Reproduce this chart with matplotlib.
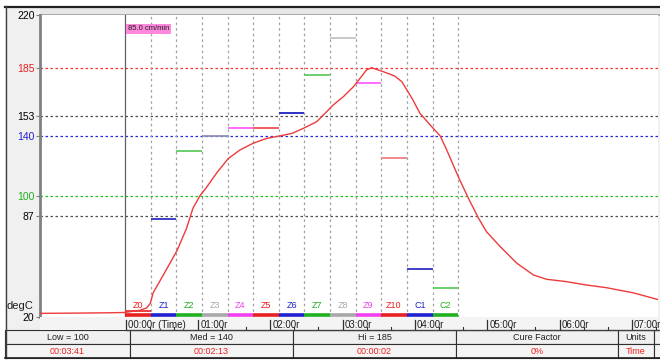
import numpy as np
import matplotlib.pyplot as plt
from matplotlib.patches import Rectangle

plt.rcParams['font.family'] = ['Liberation Sans', 'DejaVu Sans']

# profile data (time in minutes, temperature in degC)
time_min = [-1.185, -0.632, -0.217, -0.01, 0.20, 0.29, 0.34, 0.38, 0.57, 0.71,
            0.84, 0.93, 1.03, 1.12, 1.26, 1.42, 1.58, 1.76, 1.95, 2.13,
            2.30, 2.46, 2.64, 2.78, 2.87, 3.01, 3.15, 3.24, 3.33, 3.40,
            3.56, 3.72, 3.82, 3.96, 4.07, 4.19, 4.35, 4.44, 4.60, 4.74,
            4.88, 4.99, 5.18, 5.41, 5.64, 5.82, 6.10, 6.37, 6.65, 7.02, 7.36]
temp_c = [22.4, 22.6, 22.8, 23.0, 24.5, 26.0, 29.0, 36.0, 52.0, 64.0,
          78.5, 92.0, 100.5, 106.0, 115.5, 125.0, 130.6, 135.0, 138.3, 139.9,
          141.6, 145.0, 149.3, 156.0, 160.4, 165.9, 172.5, 178.0, 183.6, 185.1,
          182.5, 179.6, 175.8, 164.8, 154.9, 148.3, 139.9, 130.6, 112.9, 98.6,
          85.4, 76.5, 66.6, 55.6, 47.8, 45.0, 43.4, 41.2, 39.4, 36.0, 31.6]

zones = ['Z0', 'Z1', 'Z2', 'Z3', 'Z4', 'Z5', 'Z6', 'Z7', 'Z8', 'Z9', 'Z10', 'C1', 'C2']
zone_edges = [-0.01, 0.35, 0.70, 1.06, 1.41, 1.76, 2.12, 2.47, 2.82, 3.18, 3.53, 3.89, 4.25, 4.60]
setpoints = [24, 85, 130, 140, 145, 145, 155, 180, 205, 175, 125, 52, 39]
zone_colors = ['#e82020', '#2020d0', '#20b020', '#a8a8a8', '#f040f0', '#e82020', '#2020d0',
               '#20b020', '#a8a8a8', '#f040f0', '#e82020', '#2020d0', '#20b020']
setpoint_colors = ['#e83030', '#3030c0', '#60cc60', '#9090b8', '#ff60ff', '#f05050', '#2020c0',
                   '#60cc60', '#c4c4c4', '#ff60ff', '#f08080', '#3030c0', '#60cc60']

ref_levels = [185, 153, 140, 100, 87]
ref_colors = ['#ff3030', '#505050', '#2828e0', '#20c020', '#505050']
ytick_vals = [20, 87, 100, 140, 153, 185, 220]
ytick_colors = ['black', 'black', '#20b020', '#2020d0', 'black', '#e82020', 'black']

time_ticks = [0, 1, 2, 3, 4, 5, 6, 7]
time_labels = ['00:00r (Time)', '01:00r', '02:00r', '03:00r', '04:00r', '05:00r', '06:00r', '07:00r']

table_heads = ['Low = 100', 'Med = 140', 'Hi = 185', 'Cure Factor', 'Units', '']
table_vals = ['00:03:41', '00:02:13', '00:00:02', '0%', 'Time', '']
table_cols = [5, 130, 293, 456, 618, 654, 662]

W, H = 660, 360
fig = plt.figure(figsize=(6.6, 3.6), dpi=100)
fig.patch.set_facecolor('white')

# background widget in pixel coordinates
bg = fig.add_axes([0, 0, 1, 1])
bg.set_xlim(0, W)
bg.set_ylim(H, 0)
bg.axis('off')
bg.add_patch(Rectangle((5, 6), 660, 352, facecolor='#f0f0f0', edgecolor='none'))
bg.plot([5, 660], [6.5, 6.5], color='#202020', lw=1.6)
bg.plot([5.5, 5.5], [6, 358], color='#404040', lw=1.0)
bg.add_patch(Rectangle((40, 8), 620, 7, facecolor='#e6e6e6', edgecolor='none'))
bg.plot([40, 660], [15, 15], color='#a0a0a0', lw=1.2)
bg.text(20, 306, 'degC', fontsize=8, ha='center', va='center', color='#202020')

# table
for r, (y0, y1) in enumerate([(330, 344), (344, 358)]):
    for i in range(len(table_cols) - 1):
        x0, x1 = table_cols[i], table_cols[i + 1]
        bg.add_patch(Rectangle((x0, y0), x1 - x0, y1 - y0,
                               facecolor='#f0f0f0' if r == 0 else '#f4f4f4',
                               edgecolor='#303030', lw=0.8))
        txt = table_heads[i] if r == 0 else table_vals[i]
        bg.text((x0 + x1) / 2, (y0 + y1) / 2 + 0.5, txt, fontsize=6.5, ha='center', va='center',
                color='#202020' if r == 0 else '#ee2020')
bg.plot([5, 660], [358, 358], color='#202020', lw=1.2)

# main plot
x_lo, x_hi = -1.185, 7.362
ax = fig.add_axes([40 / W, 1 - 317 / H, 618 / W, 302 / H])
ax.set_facecolor('white')
ax.set_xlim(x_lo, x_hi)
ax.set_ylim(20, 220)
for s in ['top', 'right', 'bottom']:
    ax.spines[s].set_visible(False)
ax.spines['left'].set_color('#808080')
ax.spines['left'].set_linewidth(2)
ax.set_xticks([])
ax.set_yticks(ytick_vals)
ax.set_yticklabels([str(v) for v in ytick_vals], fontsize=7.5)
for lab, c in zip(ax.get_yticklabels(), ytick_colors):
    lab.set_color(c)
ax.tick_params(axis='y', length=3, width=0.8, color='#808080', pad=1)

for lvl, c in zip(ref_levels, ref_colors):
    ax.axhline(lvl, color=c, lw=0.9, ls=(0, (2, 2)), zorder=1)

ax.axvline(zone_edges[0], color='#606060', lw=0.9, zorder=1)
for e in zone_edges[1:]:
    ax.axvline(e, color='#a0a0a0', lw=0.9, ls=(0, (2, 2.5)), zorder=1)

ax.hlines(setpoints, zone_edges[:-1], zone_edges[1:], colors=setpoint_colors, lw=1.3, zorder=2)
ax.hlines([21] * len(zones), zone_edges[:-1], zone_edges[1:], colors=zone_colors, lw=2.6, zorder=3)

for i, z in enumerate(zones):
    ax.text((zone_edges[i] + zone_edges[i + 1]) / 2, 27.5, z, fontsize=6.5, color=zone_colors[i],
            ha='center', va='center', zorder=4)

ax.plot(time_min, temp_c, color='#ee3a3a', lw=1.0, zorder=5)

ax.text(0.03, 211, '85.0 cm/min', fontsize=5.5, color='#202020', va='center', ha='left',
        bbox=dict(boxstyle='square,pad=0.2', facecolor='#ff88dd', edgecolor='none'), zorder=6)

# time strip
tx = fig.add_axes([40 / W, 1 - 330 / H, 618 / W, 13 / H])
tx.set_facecolor('#f4f4f4')
tx.set_xlim(x_lo, x_hi)
tx.set_ylim(0, 1)
tx.set_xticks([])
tx.set_yticks([])
for s in tx.spines.values():
    s.set_visible(False)
tx.plot([0, x_hi], [0.02, 0.02], color='#404040', lw=1.0, clip_on=False)
for t, lab in zip(time_ticks, time_labels):
    tx.plot([t, t], [0.02, 0.8], color='#303030', lw=0.9)
    tx.text(t + 0.03, 0.42, lab, fontsize=7, ha='left', va='center', color='#202020')
for t in np.arange(0, 7.4, 1 / 3):
    if abs(t - round(t)) > 0.01:
        tx.plot([t, t], [0.02, 0.2], color='#303030', lw=0.8)

fig.savefig('out.png', dpi=100)
